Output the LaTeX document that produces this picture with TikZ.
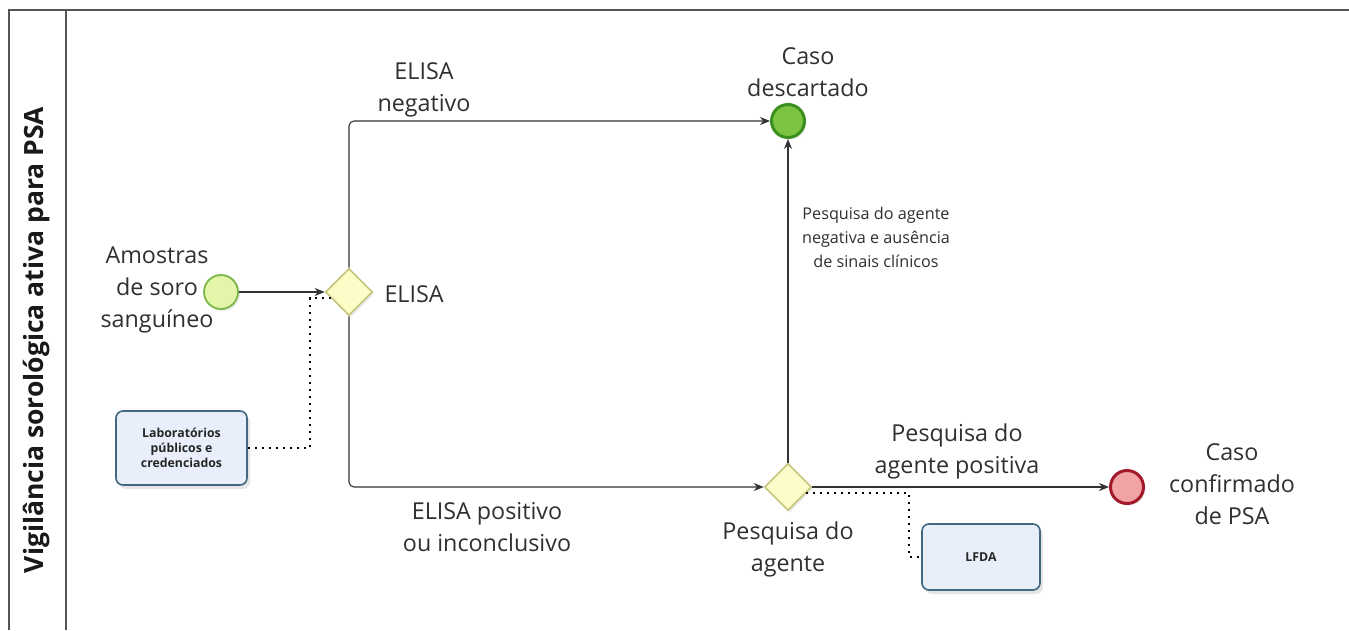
\documentclass[tikz,border=0pt]{standalone}
\usepackage{fontspec}
\setmainfont{Open Sans}
\usetikzlibrary{arrows.meta,shapes.geometric,shadows}
\definecolor{framec}{HTML}{555555}
\definecolor{linec}{HTML}{333333}
\definecolor{txtc}{HTML}{303030}
\definecolor{startfill}{HTML}{E2F5A8}
\definecolor{startdraw}{HTML}{7AB648}
\definecolor{gatefill}{HTML}{FCFCC8}
\definecolor{gatedraw}{HTML}{C4C47C}
\definecolor{okfill}{HTML}{7DC443}
\definecolor{okdraw}{HTML}{3D8F1F}
\definecolor{badfill}{HTML}{F2A3A6}
\definecolor{baddraw}{HTML}{A3192A}
\definecolor{boxfill}{HTML}{E8EEFA}
\definecolor{boxdraw}{HTML}{41687E}
\begin{document}
\begin{tikzpicture}[x=1pt,y=-1pt,
  frameline/.style={draw=framec, line width=2pt},
  flow/.style={draw=linec, line width=1.1pt, rounded corners=5pt, -{Stealth[length=10pt,width=8pt]}},
  assoc/.style={draw=black, line width=2pt, dash pattern=on 2pt off 5pt},
  biglabel/.style={font=\fontsize{23.3}{32}\selectfont, align=center, text=txtc},
  smalllabel/.style={font=\fontsize{16.2}{24}\selectfont, align=center, text=txtc},
  gate/.style={diamond, draw=gatedraw, fill=gatefill, line width=1.6pt, minimum width=47pt, minimum height=47pt, inner sep=0pt, drop shadow={opacity=0.15, shadow xshift=2pt, shadow yshift=-2pt}},
  startev/.style={circle, draw=startdraw, fill=startfill, line width=1.8pt, minimum size=34pt, inner sep=0pt, drop shadow={opacity=0.15, shadow xshift=2pt, shadow yshift=-2pt}},
  endev/.style={circle, line width=3pt, minimum size=33pt, inner sep=0pt, drop shadow={opacity=0.15, shadow xshift=2pt, shadow yshift=-2pt}},
  taskbox/.style={rectangle, rounded corners=7pt, draw=boxdraw, fill=boxfill, line width=1.6pt, align=center, font=\bfseries\fontsize{12.3}{15}\selectfont, text=black!85, drop shadow={opacity=0.2, shadow xshift=3pt, shadow yshift=-4pt}}
]
\useasboundingbox (0,0) rectangle (1349,630);
\fill[white] (0,0) rectangle (1349,630);
% frame
\draw[frameline] (1349,10) -- (9,10) -- (9,630);
\draw[frameline] (66,10) -- (66,630);
\node[rotate=90, font=\bfseries\fontsize{26.5}{30}\selectfont, text=black!90] (title) at (37,340) {Vigilância sorológica ativa para PSA};

% nodes
\node[startev] (start) at (221,292) {};
\node[gate] (elisa) at (349,292) {};
\node[endev, draw=okdraw, fill=okfill] (desc) at (788,121) {};
\node[gate] (pesq) at (788,487) {};
\node[endev, draw=baddraw, fill=badfill] (conf) at (1127,487) {};
\node[taskbox, minimum width=131pt, minimum height=74pt] (lab) at (181.5,448) {Laboratórios\\públicos e\\credenciados};
\node[taskbox, minimum width=118pt, minimum height=66pt] (lfda) at (981,557) {LFDA};

% labels
\node[biglabel] (lstart) at (157,290) {Amostras\\de soro\\sanguíneo};
\node[biglabel, anchor=west] (lelisa) at (381,294) {ELISA};
\node[biglabel] (lneg) at (424,90) {ELISA\\negativo};
\node[biglabel] (ldesc) at (808,72) {Caso\\descartado};
\node[biglabel] (lpos) at (487,527) {ELISA positivo\\ou inconclusivo};
\node[biglabel] (lpesq) at (788,549) {Pesquisa do\\agente};
\node[smalllabel] (lnegag) at (876,237) {Pesquisa do agente\\negativa e ausência\\de sinais clínicos};
\node[biglabel] (lposag) at (957,451) {Pesquisa do\\agente positiva};
\node[biglabel] (lconf) at (1232,484) {Caso\\confirmado\\de PSA};

% connectors
\draw[flow] (start) -- (elisa);
\draw[flow] (elisa.north) |- (desc);
\draw[flow] (elisa.south) |- (pesq);
\draw[flow] (pesq.north) -- (desc);
\draw[flow] (pesq.east) -- (conf);
\draw[assoc] (lab.east) -- ++(62,0) |- (elisa.200);
\draw[assoc] (pesq.-20) -- ++(103,0) |- (lfda.west);
\end{tikzpicture}
\end{document}
